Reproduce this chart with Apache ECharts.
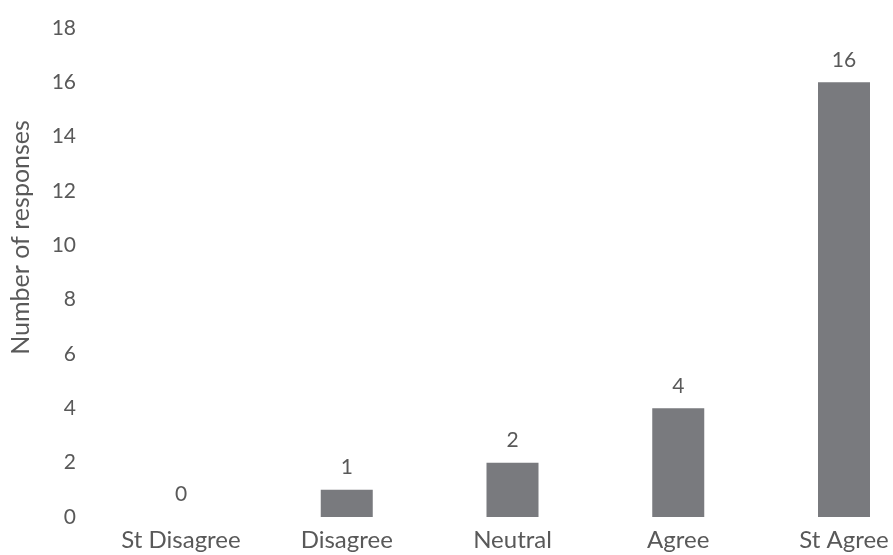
<!DOCTYPE html>
<html><head><meta charset="utf-8">
<script src="https://cdn.jsdelivr.net/npm/echarts@6/dist/echarts.min.js"></script>
<style>html,body{margin:0;padding:0;background:#fff}#c{width:893px;height:555px}</style>
</head><body><div id="c"></div>
<script>
const categories = ['St Disagree', 'Disagree', 'Neutral', 'Agree', 'St Agree'];
const responses = [0, 1, 2, 4, 16];
const yTicks = [0, 2, 4, 6, 8, 10, 12, 14, 16, 18];

const chart = echarts.init(document.getElementById('c'));
const font = 'Lato, "Open Sans", sans-serif';
chart.setOption({
  animation: false,
  textStyle: { fontFamily: font },
  grid: { left: 177, right: 49, top: 28, bottom: 38, containLabel: false },
  xAxis: {
    type: 'category', data: categories, boundaryGap: false,
    axisLine: { show: false }, axisTick: { show: false },
    axisLabel: { color: '#595959', fontSize: 24, margin: 11, fontFamily: font }
  },
  yAxis: {
    type: 'value', min: yTicks[0], max: yTicks[yTicks.length - 1], interval: 2,
    splitLine: { show: false }, axisLine: { show: false }, axisTick: { show: false },
    axisLabel: { color: '#595959', fontSize: 21, margin: 105, fontFamily: font },
    name: 'Number of responses', nameLocation: 'middle', nameGap: 148,
    nameTextStyle: { color: '#595959', fontSize: 25, fontFamily: font, padding: [0, 0, 0, 70] }
  },
  series: [{
    type: 'bar', data: responses, barWidth: 52,
    itemStyle: { color: '#797a7e' },
    label: { show: true, position: 'top', distance: 12, color: '#595959', fontSize: 21, fontFamily: font }
  }]
});
</script></body></html>
